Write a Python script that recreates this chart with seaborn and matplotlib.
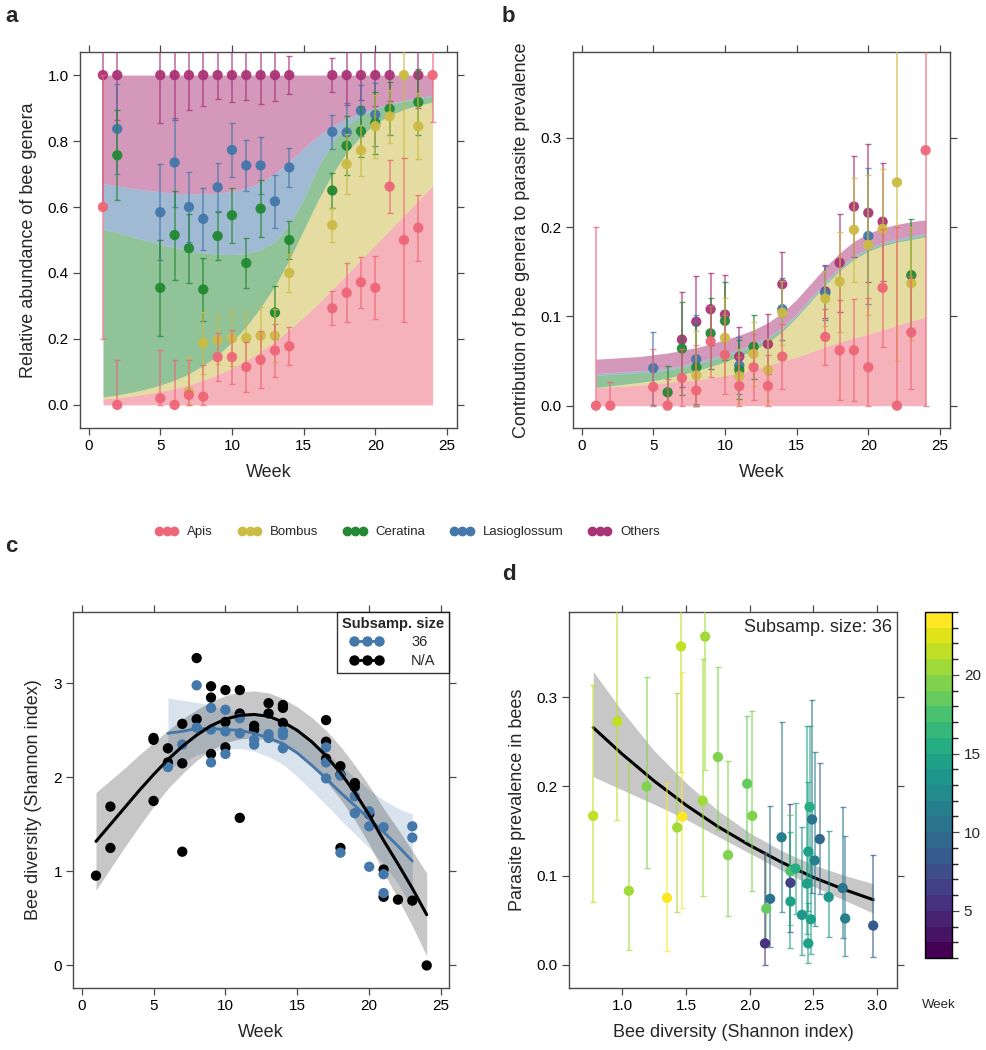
import numpy as np
import pandas as pd
import matplotlib
matplotlib.use("Agg")
import matplotlib.pyplot as plt
import seaborn as sns
from matplotlib.lines import Line2D
from matplotlib.colors import BoundaryNorm, ListedColormap
from matplotlib.cm import ScalarMappable

sns.set_theme(style="ticks")
plt.rcParams['font.family'] = ['Liberation Sans', 'DejaVu Sans']

nan = np.nan
genera = ["Apis", "Bombus", "Ceratina", "Lasioglossum", "Others"]
genus_colors = ["#EE6677", "#CCBB44", "#228833", "#4477AA", "#AA3377"]

# ---------------- panel a : fitted cumulative relative abundance ----------------
fit_weeks = list(range(1, 25))
a_fit_apis = [0.018, 0.022, 0.027, 0.033, 0.041, 0.050, 0.061, 0.075, 0.092, 0.112, 0.135, 0.162,
              0.193, 0.228, 0.266, 0.307, 0.350, 0.395, 0.440, 0.485, 0.530, 0.575, 0.620, 0.665]
a_fit_bombus = [0.024, 0.030, 0.038, 0.048, 0.060, 0.075, 0.094, 0.120, 0.150, 0.190, 0.238, 0.295,
                0.360, 0.440, 0.530, 0.620, 0.700, 0.765, 0.815, 0.852, 0.878, 0.896, 0.909, 0.918]
a_fit_ceratina = [0.533, 0.522, 0.510, 0.498, 0.487, 0.477, 0.468, 0.461, 0.457, 0.456, 0.459, 0.470,
                  0.495, 0.545, 0.625, 0.720, 0.795, 0.845, 0.877, 0.897, 0.911, 0.921, 0.929, 0.936]
a_fit_lasio = [0.671, 0.664, 0.657, 0.651, 0.646, 0.642, 0.640, 0.640, 0.642, 0.647, 0.657, 0.675,
               0.702, 0.738, 0.778, 0.815, 0.845, 0.868, 0.886, 0.901, 0.914, 0.924, 0.932, 0.939]
a_fit_others = [1.0] * 24

# observed points (cumulative) panel a
obs_weeks = [1, 2, 5, 6, 7, 8, 9, 10, 11, 12, 13, 14, 17, 18, 19, 20, 21, 22, 23, 24]
a_err = [0.40, 0.137, 0.145, 0.135, 0.105, 0.095, 0.072, 0.083, 0.077, 0.087, 0.08, 0.058,
         0.052, 0.09, 0.077, 0.095, 0.08, 0.25, 0.10, 0.143]
a_apis = [0.60, 0.0, 0.02, 0.0, 0.03, 0.025, 0.145, 0.145, 0.115, 0.137, 0.165, 0.178,
          0.293, 0.34, 0.372, 0.355, 0.662, 0.50, 0.537, 1.0]
a_bombus = [nan, nan, nan, nan, 0.04, 0.188, 0.197, 0.202, 0.203, 0.21, 0.21, 0.40,
            0.545, 0.73, 0.772, 0.845, 0.875, 1.0, 0.845, nan]
a_ceratina = [nan, 0.757, 0.355, 0.515, 0.475, 0.35, 0.512, 0.575, 0.43, 0.595, 0.28, 0.50,
              0.65, 0.786, 0.83, 0.855, 0.898, nan, 0.918, nan]
a_lasio = [nan, 0.837, 0.584, 0.735, 0.60, 0.564, 0.66, 0.773, 0.726, 0.726, 0.617, 0.72,
           0.828, 0.826, 0.892, 0.88, nan, nan, nan, nan]
a_others = [1.0, 1.0, 1.0, 1.0, 1.0, 1.0, 1.0, 1.0, 1.0, 1.0, 1.0, 1.0,
            1.0, 1.0, 1.0, 1.0, 1.0, nan, 1.0, nan]

# ---------------- panel b : contributions to parasite prevalence ----------------
b_fit_apis = [0.020, 0.021, 0.022, 0.023, 0.0245, 0.026, 0.0275, 0.029, 0.031, 0.034, 0.037, 0.041,
              0.045, 0.050, 0.0545, 0.060, 0.066, 0.071, 0.076, 0.080, 0.085, 0.090, 0.095, 0.099]
b_fit_bombus = [0.0205, 0.022, 0.024, 0.026, 0.028, 0.031, 0.035, 0.039, 0.044, 0.049, 0.055, 0.062,
                0.071, 0.083, 0.099, 0.117, 0.135, 0.151, 0.164, 0.173, 0.179, 0.183, 0.186, 0.189]
b_fit_ceratina = [0.034, 0.035, 0.036, 0.037, 0.038, 0.040, 0.043, 0.047, 0.051, 0.056, 0.061, 0.067,
                  0.075, 0.086, 0.101, 0.119, 0.137, 0.153, 0.166, 0.175, 0.181, 0.185, 0.188, 0.191]
b_fit_lasio = [0.036, 0.037, 0.038, 0.039, 0.040, 0.042, 0.045, 0.049, 0.053, 0.058, 0.063, 0.069,
               0.077, 0.088, 0.103, 0.121, 0.139, 0.155, 0.168, 0.177, 0.183, 0.187, 0.190, 0.193]
b_fit_others = [0.052, 0.053, 0.054, 0.055, 0.057, 0.059, 0.062, 0.065, 0.069, 0.074, 0.079, 0.085,
                0.093, 0.104, 0.119, 0.137, 0.155, 0.171, 0.184, 0.193, 0.199, 0.203, 0.206, 0.208]

b_apis = [0.0, 0.0, 0.021, 0.0, 0.031, 0.017, 0.072, 0.057, 0.022, 0.043, 0.022, 0.055,
          0.077, 0.062, 0.062, 0.043, 0.132, 0.0, 0.082, 0.286]
b_apis_err = [0.20, 0.027, 0.042, 0.03, 0.033, 0.051, 0.04, 0.044, 0.033, 0.037, 0.035, 0.036,
              0.031, 0.056, 0.057, 0.077, 0.066, 0.20, 0.063, 0.286]
b_bombus = [nan, nan, nan, nan, nan, 0.034, nan, 0.076, 0.033, 0.058, 0.04, 0.104,
            0.12, 0.139, 0.197, 0.18, 0.198, 0.25, 0.137, nan]
b_bombus_err = [nan, nan, nan, nan, nan, 0.05, nan, 0.044, 0.03, 0.036, 0.035, 0.036,
                0.031, 0.056, 0.058, 0.078, 0.067, 0.20, 0.063, nan]
b_ceratina = [nan, nan, nan, 0.015, 0.064, 0.043, 0.081, 0.095, 0.04, 0.066, nan, nan,
              nan, nan, nan, nan, nan, nan, 0.146, nan]
b_ceratina_err = [nan, nan, nan, 0.029, 0.052, 0.047, 0.04, 0.044, 0.033, 0.036, nan, nan,
                  nan, nan, nan, nan, nan, nan, 0.063, nan]
b_lasio = [nan, nan, 0.042, nan, nan, 0.052, nan, nan, 0.045, nan, nan, 0.108,
           0.126, nan, nan, 0.19, nan, nan, nan, nan]
b_lasio_err = [nan, nan, 0.041, nan, nan, 0.05, nan, nan, 0.032, nan, nan, 0.035,
               0.03, nan, nan, 0.076, nan, nan, nan, nan]
b_others = [nan, nan, nan, nan, 0.074, 0.094, 0.108, 0.102, 0.055, nan, 0.069, 0.136,
            0.128, 0.16, 0.223, 0.216, 0.206, nan, nan, nan]
b_others_err = [nan, nan, nan, nan, 0.053, 0.051, 0.04, 0.044, 0.033, nan, 0.034, 0.036,
                0.03, 0.055, 0.057, 0.077, 0.066, nan, nan, nan]

# ---------------- panel c : Shannon diversity ----------------
c_na_week = [1, 2, 2, 5, 5, 5, 6, 6, 7, 7, 7, 8, 8, 9, 9, 9, 10, 10, 10, 11, 11, 11, 12, 12, 13, 13,
             14, 14, 14, 17, 17, 17, 18, 18, 18, 19, 19, 20, 21, 21, 22, 23, 24]
c_na_div = [0.955, 1.69, 1.25, 1.75, 2.42, 2.40, 2.31, 2.16, 2.57, 2.15, 1.21, 3.27, 2.62, 2.97, 2.85,
            2.25, 2.93, 2.59, 2.32, 2.93, 2.68, 1.57, 2.55, 2.51, 2.79, 2.68, 2.77, 2.74, 2.58, 2.61,
            2.38, 2.20, 2.12, 2.03, 1.25, 1.94, 1.90, 1.61, 1.02, 0.73, 0.70, 0.69, 0.0]
c_36_week = [6, 7, 8, 8, 9, 9, 9, 10, 10, 10, 11, 11, 12, 12, 13, 13, 14, 14, 14, 17, 17, 17, 18, 18,
             19, 19, 20, 20, 20, 21, 21, 21, 23, 23]
c_36_div = [2.11, 2.35, 2.98, 2.53, 2.74, 2.51, 2.16, 2.72, 2.49, 2.25, 2.63, 2.47, 2.40, 2.35, 2.46,
            2.42, 2.49, 2.45, 2.31, 2.32, 2.16, 1.99, 2.02, 1.20, 1.80, 1.62, 1.64, 1.48, 1.05, 1.47,
            0.97, 0.77, 1.48, 1.36]
c_na_fit = [1.32, 1.50, 1.68, 1.86, 2.03, 2.19, 2.33, 2.45, 2.55, 2.62, 2.66, 2.67, 2.65, 2.59, 2.50,
            2.38, 2.23, 2.05, 1.84, 1.60, 1.33, 1.08, 0.82, 0.54]
c_na_hw = [0.52, 0.47, 0.42, 0.38, 0.34, 0.31, 0.29, 0.27, 0.26, 0.25, 0.25, 0.25, 0.25, 0.25, 0.25,
           0.26, 0.27, 0.28, 0.29, 0.31, 0.34, 0.37, 0.40, 0.44]
c_36_fit_weeks = list(range(6, 24))
c_36_fit = [2.47, 2.49, 2.52, 2.52, 2.51, 2.50, 2.47, 2.42, 2.36, 2.26, 2.13, 1.99, 1.84, 1.70, 1.56,
            1.42, 1.27, 1.11]
c_36_hw = [0.38, 0.33, 0.28, 0.24, 0.21, 0.19, 0.19, 0.20, 0.22, 0.25, 0.27, 0.28, 0.29, 0.30, 0.31,
           0.34, 0.40, 0.50]

# ---------------- panel d : prevalence vs diversity ----------------
d_div = [0.77, 0.96, 1.05, 1.19, 1.35, 1.43, 1.46, 1.47, 1.63, 1.65, 1.75, 1.83, 1.98, 2.02, 2.13,
         2.12, 2.16, 2.25, 2.32, 2.32, 2.32, 2.36, 2.41, 2.45, 2.46, 2.47, 2.46, 2.48, 2.49, 2.51,
         2.55, 2.62, 2.73, 2.75, 2.97]
d_prev = [0.167, 0.273, 0.083, 0.200, 0.075, 0.154, 0.357, 0.166, 0.184, 0.368, 0.233, 0.123, 0.203,
          0.167, 0.063, 0.024, 0.074, 0.143, 0.092, 0.105, 0.071, 0.108, 0.056, 0.091, 0.127, 0.177,
          0.024, 0.051, 0.163, 0.117, 0.141, 0.076, 0.086, 0.052, 0.044]
d_lo = [0.070, 0.162, 0.017, 0.108, 0.016, 0.059, 0.216, 0.064, 0.077, 0.218, 0.151, 0.055, 0.139,
        0.083, 0.024, 0.000, 0.020, 0.059, 0.037, 0.045, 0.019, 0.057, 0.011, 0.035, 0.060, 0.090,
        0.002, 0.012, 0.080, 0.044, 0.079, 0.031, 0.030, 0.010, 0.009]
d_hi = [0.314, 0.42, 0.225, 0.323, 0.204, 0.305, 0.52, 0.328, 0.343, 0.53, 0.334, 0.228, 0.279,
        0.285, 0.125, 0.125, 0.178, 0.272, 0.180, 0.168, 0.149, 0.181, 0.154, 0.268, 0.205, 0.268,
        0.069, 0.125, 0.297, 0.239, 0.226, 0.150, 0.177, 0.144, 0.123]
d_week = [21, 21, 20, 19, 23, 20, 21, 23, 20, 20, 19, 19, 18, 19, 18, 5, 10, 11, 6, 17, 14, 15, 13,
          14, 14, 15, 14, 14, 10, 11, 9, 13, 10, 11, 8]
d_fit_x = [0.77, 1.0, 1.25, 1.5, 1.75, 2.0, 2.25, 2.5, 2.75, 2.97]
d_fit = [0.266, 0.236, 0.206, 0.179, 0.155, 0.134, 0.115, 0.098, 0.084, 0.073]
d_fit_hi = [0.329, 0.284, 0.240, 0.204, 0.173, 0.148, 0.128, 0.112, 0.100, 0.091]
d_fit_lo = [0.211, 0.196, 0.180, 0.163, 0.144, 0.125, 0.106, 0.088, 0.072, 0.058]
week_bounds = np.arange(2, 25, 1.0)

# ============================ drawing ============================
fig = plt.figure(figsize=(9.87, 10.5), dpi=100)
W, H = 987.0, 1050.0


def add_ax(l, t, r, b):
    return fig.add_axes([l / W, 1 - b / H, (r - l) / W, (b - t) / H])


axA = add_ax(80, 52, 457, 428)
axB = add_ax(573, 52, 950, 428)
axC = add_ax(73, 612, 449, 988)
axD = add_ax(569, 612, 897, 988)
cax = add_ax(925, 612, 952, 958)

frame_col = "#4a4a4a"
for ax in (axA, axB, axC, axD):
    for sp in ax.spines.values():
        sp.set_color(frame_col)
        sp.set_linewidth(1.0)
    ax.tick_params(direction="out", top=True, right=True, labeltop=False, labelright=False,
                   length=5, width=0.9, color=frame_col, labelcolor="black", labelsize=11, pad=3)

ms = 55


def stacked(ax, fits):
    lower = [0.0] * len(fit_weeks)
    for fit, col in zip(fits, genus_colors):
        ax.fill_between(fit_weeks, lower, fit, color=col, alpha=0.5, lw=0, zorder=1)
        lower = fit


def points(ax, vals, errs, col, z):
    v = np.array(vals, dtype=float)
    e = np.array(errs, dtype=float)
    lo = np.clip(v - e, 0, None)
    hi = v + e
    ax.errorbar(obs_weeks, v, yerr=[v - lo, hi - v], fmt="none", ecolor=col, elinewidth=1.1,
                capsize=2.2, capthick=1.0, alpha=0.75, zorder=z)
    df = pd.DataFrame({"week": obs_weeks, "val": v}).dropna()
    sns.scatterplot(data=df, x="week", y="val", color=col, s=ms, edgecolor="none", alpha=0.95,
                    ax=ax, zorder=z + 0.5, legend=False)


# panel a
stacked(axA, [a_fit_apis, a_fit_bombus, a_fit_ceratina, a_fit_lasio, a_fit_others])
a_vals = [a_apis, a_bombus, a_ceratina, a_lasio, a_others]
for i in [4, 3, 2, 1, 0]:
    points(axA, a_vals[i], a_err, genus_colors[i], 3 + (4 - i))
axA.set_xlim(-0.6, 25.7)
axA.set_ylim(-0.07, 1.07)
axA.set_xticks([0, 5, 10, 15, 20, 25])
axA.set_yticks([0.0, 0.2, 0.4, 0.6, 0.8, 1.0])
axA.set_yticklabels(["0.0", "0.2", "0.4", "0.6", "0.8", "1.0"])
axA.set_xlabel("Week", fontsize=13, labelpad=8)
axA.set_ylabel("Relative abundance of bee genera", fontsize=13, labelpad=8)

# panel b
stacked(axB, [b_fit_apis, b_fit_bombus, b_fit_ceratina, b_fit_lasio, b_fit_others])
b_vals = [b_apis, b_bombus, b_ceratina, b_lasio, b_others]
b_errs = [b_apis_err, b_bombus_err, b_ceratina_err, b_lasio_err, b_others_err]
for i in [4, 3, 2, 1, 0]:
    points(axB, b_vals[i], b_errs[i], genus_colors[i], 3 + (4 - i))
axB.set_xlim(-0.6, 25.7)
axB.set_ylim(-0.025, 0.396)
axB.set_xticks([0, 5, 10, 15, 20, 25])
axB.set_yticks([0.0, 0.1, 0.2, 0.3])
axB.set_yticklabels(["0.0", "0.1", "0.2", "0.3"])
axB.set_xlabel("Week", fontsize=13, labelpad=8)
axB.set_ylabel("Contribution of bee genera to parasite prevalence", fontsize=13, labelpad=8)

# shared legend
handles = [Line2D([], [], color=c, marker="o", markersize=6, lw=2) for c in genus_colors]
fig.legend(handles, genera, loc="center", bbox_to_anchor=(0.413, 1 - 532 / H), ncol=5,
           frameon=False, numpoints=3, handlelength=1.75, handletextpad=0.68, columnspacing=1.9,
           fontsize=9.5)

# panel c
blue = "#4477AA"
na_fit = np.array(c_na_fit)
na_hw = np.array(c_na_hw)
f36 = np.array(c_36_fit)
h36 = np.array(c_36_hw)
axC.fill_between(c_36_fit_weeks, f36 - h36, f36 + h36, color=blue, alpha=0.2, lw=0, zorder=1)
axC.fill_between(fit_weeks, na_fit - na_hw, na_fit + na_hw, color="black", alpha=0.22, lw=0, zorder=1)
sns.scatterplot(x=c_na_week, y=c_na_div, color="black", s=ms, edgecolor="none", ax=axC, zorder=3,
                legend=False)
sns.scatterplot(x=c_36_week, y=c_36_div, color=blue, s=ms, edgecolor="none", ax=axC, zorder=4,
                legend=False)
sns.lineplot(x=c_36_fit_weeks, y=c_36_fit, color=blue, lw=2, ax=axC, zorder=5)
sns.lineplot(x=fit_weeks, y=c_na_fit, color="black", lw=2.2, ax=axC, zorder=6)
axC.set_xlim(-0.6, 25.55)
axC.set_ylim(-0.24, 3.76)
axC.set_xticks([0, 5, 10, 15, 20, 25])
axC.set_yticks([0, 1, 2, 3])
axC.set_xlabel("Week", fontsize=13, labelpad=8)
axC.set_ylabel("Bee diversity (Shannon index)", fontsize=13, labelpad=8)
lh = [Line2D([], [], color=blue, marker="o", markersize=6.5, lw=2),
      Line2D([], [], color="black", marker="o", markersize=6.5, lw=2)]
leg = axC.legend(lh, ["36", "N/A"], title="Subsamp. size", loc="upper right", numpoints=3,
                 handlelength=2.3, handletextpad=1.9, borderaxespad=0, fontsize=10.5,
                 title_fontproperties={"weight": "bold", "size": 10.5}, frameon=True,
                 fancybox=False, edgecolor="black", borderpad=0.35, labelspacing=0.3)
leg.get_frame().set_linewidth(1.0)
leg.set_zorder(10)

# panel d
n_levels = len(week_bounds) - 1
vir = plt.get_cmap("viridis")
cmap_d = ListedColormap([vir(i / (n_levels - 1)) for i in range(n_levels)])
norm_d = BoundaryNorm(week_bounds, n_levels)
axD.fill_between(d_fit_x, d_fit_lo, d_fit_hi, color="black", alpha=0.22, lw=0, zorder=1)
sns.lineplot(x=d_fit_x, y=d_fit, color="black", lw=2.2, ax=axD, zorder=2)
for x, y, lo, hi, wk in zip(d_div, d_prev, d_lo, d_hi, d_week):
    axD.errorbar([x], [y], yerr=[[y - lo], [hi - y]], fmt="none", ecolor=cmap_d(norm_d(wk)),
                 elinewidth=1.1, capsize=2.2, capthick=1.0, alpha=0.7, zorder=3)
pal = {wk: cmap_d(norm_d(wk)) for wk in sorted(set(d_week))}
sns.scatterplot(x=d_div, y=d_prev, hue=d_week, palette=pal, s=ms, edgecolor="none", ax=axD,
                zorder=4, legend=False)
axD.set_xlim(0.58, 3.157)
axD.set_ylim(-0.026, 0.3956)
axD.set_xticks([1.0, 1.5, 2.0, 2.5, 3.0])
axD.set_xticklabels(["1.0", "1.5", "2.0", "2.5", "3.0"])
axD.set_yticks([0.0, 0.1, 0.2, 0.3])
axD.set_yticklabels(["0.0", "0.1", "0.2", "0.3"])
axD.set_xlabel("Bee diversity (Shannon index)", fontsize=13, labelpad=8)
axD.set_ylabel("Parasite prevalence in bees", fontsize=13, labelpad=8)
axD.text(0.985, 0.982, "Subsamp. size: 36", transform=axD.transAxes, ha="right", va="top",
         fontsize=13, zorder=10)

cb = fig.colorbar(ScalarMappable(norm=norm_d, cmap=cmap_d), cax=cax, ticks=[5, 10, 15, 20])
cb.outline.set_edgecolor("black")
cb.outline.set_linewidth(1.0)
cax.tick_params(length=5, width=0.9, labelsize=11, color=frame_col)
fig.text(939 / W, 1 - 1005 / H, "Week", ha="center", va="center", fontsize=9.5)

# panel letters
for lab, x, y in [("a", 5, 16), ("b", 502, 16), ("c", 5, 546), ("d", 502, 574)]:
    fig.text(x / W, 1 - y / H, lab, fontsize=16, fontweight="bold", ha="left", va="center")

fig.savefig("out.png", dpi=100)
